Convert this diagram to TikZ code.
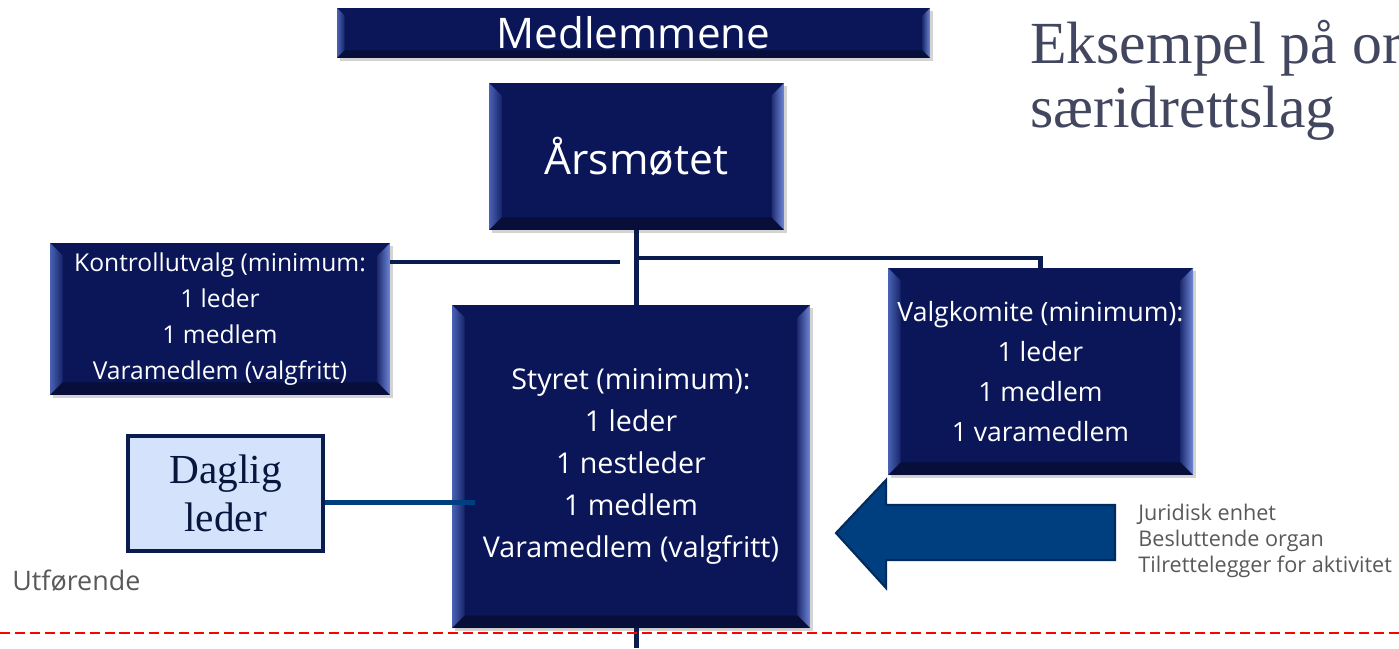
\documentclass[tikz,border=0pt]{standalone}
\usepackage{fontspec}
\setmainfont{Liberation Serif}
\newfontfamily\boxfont{Open Sans}
\usetikzlibrary{shadows}

\definecolor{navy}{HTML}{0A1658}
\definecolor{navyline}{HTML}{0A1B4D}
\definecolor{bevelL}{HTML}{4A62B5}
\definecolor{bevelR}{HTML}{6F88D8}
\definecolor{arrowblue}{HTML}{003F7F}
\definecolor{arrowedge}{HTML}{002B5C}
\definecolor{paleblue}{HTML}{D5E2FC}
\definecolor{titlegray}{HTML}{43465F}
\definecolor{notegray}{HTML}{595959}

\begin{document}
\begin{tikzpicture}[
  every node/.style={inner sep=0pt},
  % box/.style={fill=navy,text=white,rounded corners=2pt},
  box/.style={fill=navy,text=white,align=center,
    drop shadow={opacity=0.35,shadow xshift=0.06cm,shadow yshift=-0.06cm},
    path picture={
      \coordinate (bsw) at (path picture bounding box.south west);
      \coordinate (bnw) at (path picture bounding box.north west);
      \coordinate (bse) at (path picture bounding box.south east);
      \coordinate (bne) at (path picture bounding box.north east);
      \shade[left color=bevelL,right color=navy!80!bevelL]
        (bsw) -- (bnw) -- ([shift={(#1,-#1)}]bnw) -- ([shift={(#1,#1)}]bsw) -- cycle;
      \shade[left color=navy!80!bevelR,right color=bevelR]
        (bse) -- (bne) -- ([shift={(-#1,-#1)}]bne) -- ([shift={(-#1,#1)}]bse) -- cycle;
      \fill[black,opacity=0.35]
        (bsw) -- (bse) -- ([shift={(-#1,#1)}]bse) -- ([shift={(#1,#1)}]bsw) -- cycle;
    }},
  box/.default=0.25cm,
  link/.style={draw=navyline,line width=3pt},
  branch/.style={draw=navyline,line width=2.5pt},
  dlink/.style={draw=arrowblue,line width=2.3pt},
  note/.style={anchor=west,align=left,text=notegray},
  ]
  \useasboundingbox (0,0) rectangle (27.98,12.96);
  \clip (0,0) rectangle (27.98,12.96);

  \node[box=0.15cm,minimum width=11.86cm,minimum height=1cm,
    font=\boxfont\fontsize{24}{28}\selectfont] (medlem) at (12.67,12.3) {Medlemmene};
  \node[box,minimum width=5.9cm,minimum height=2.94cm,
    font=\boxfont\fontsize{24.2}{28}\selectfont] (aars) at (12.73,9.83) {Årsmøtet};
  \node[box,minimum width=6.8cm,minimum height=3.04cm,
    font=\boxfont\fontsize{14}{20.4}\selectfont] (kontroll) at (4.4,6.58)
    {Kontrollutvalg (minimum:\\1 leder\\1 medlem\\Varamedlem (valgfritt)};
  \node[box,minimum width=7.16cm,minimum height=6.46cm,
    font=\boxfont\fontsize{16.3}{23.8}\selectfont] (styret) at (12.62,3.63)
    {Styret (minimum):\\1 leder\\1 nestleder\\1 medlem\\Varamedlem (valgfritt)};
  \node[box,minimum width=6.1cm,minimum height=4.14cm,
    font=\boxfont\fontsize{15.1}{22.7}\selectfont] (valg) at (20.81,5.53)
    {Valgkomite (minimum):\\1 leder\\1 medlem\\1 varamedlem};
  \node[fill=paleblue,draw=navyline,line width=2.3pt,align=center,text=navyline!80!black,
    minimum width=3.9cm,minimum height=2.3cm,
    font=\fontsize{23.5}{27.2}\selectfont] (daglig) at (4.51,3.09) {Daglig\\leder};

  \coordinate (lgap) at (12.4,7.72);
  \coordinate (rb) at (12.73,7.8);
  \coordinate (stub) at (12.73,0);

  \draw[link] (aars.south) -- (aars.south |- styret.north);
  \draw[branch] (lgap) -- (lgap -| kontroll.east);
  \draw[branch] (rb) -| (valg.north);
  \draw[link] (stub |- styret.south) -- (stub);
  \draw[dlink] ([yshift=-0.18cm]daglig.east) -- ++(3,0);

  \filldraw[fill=arrowblue,draw=arrowedge,line width=1.2pt]
    (16.72,2.3) -- (17.72,3.36) -- (17.72,2.86) -- (22.3,2.86)
    -- (22.3,1.76) -- (17.72,1.76) -- (17.72,1.2) -- cycle;

  \node[note,font=\boxfont\fontsize{12.3}{14.7}\selectfont] (roles) at (22.76,2.14)
    {Juridisk enhet\\Besluttende organ\\Tilrettelegger for aktivitet};
  \node[note,font=\boxfont\fontsize{15.3}{17}\selectfont] (utf) at (0.24,1.34) {Utførende};
  \node[anchor=west,align=left,text=titlegray,font=\fontsize{34}{36.3}\selectfont]
    (title) at (20.6,11.36) {Eksempel på org\\særidrettslag};

  \draw[red,line width=1.4pt,dash pattern=on 5.7pt off 2.8pt] (0,0.3) -- (27.98,0.3);
\end{tikzpicture}
\end{document}
